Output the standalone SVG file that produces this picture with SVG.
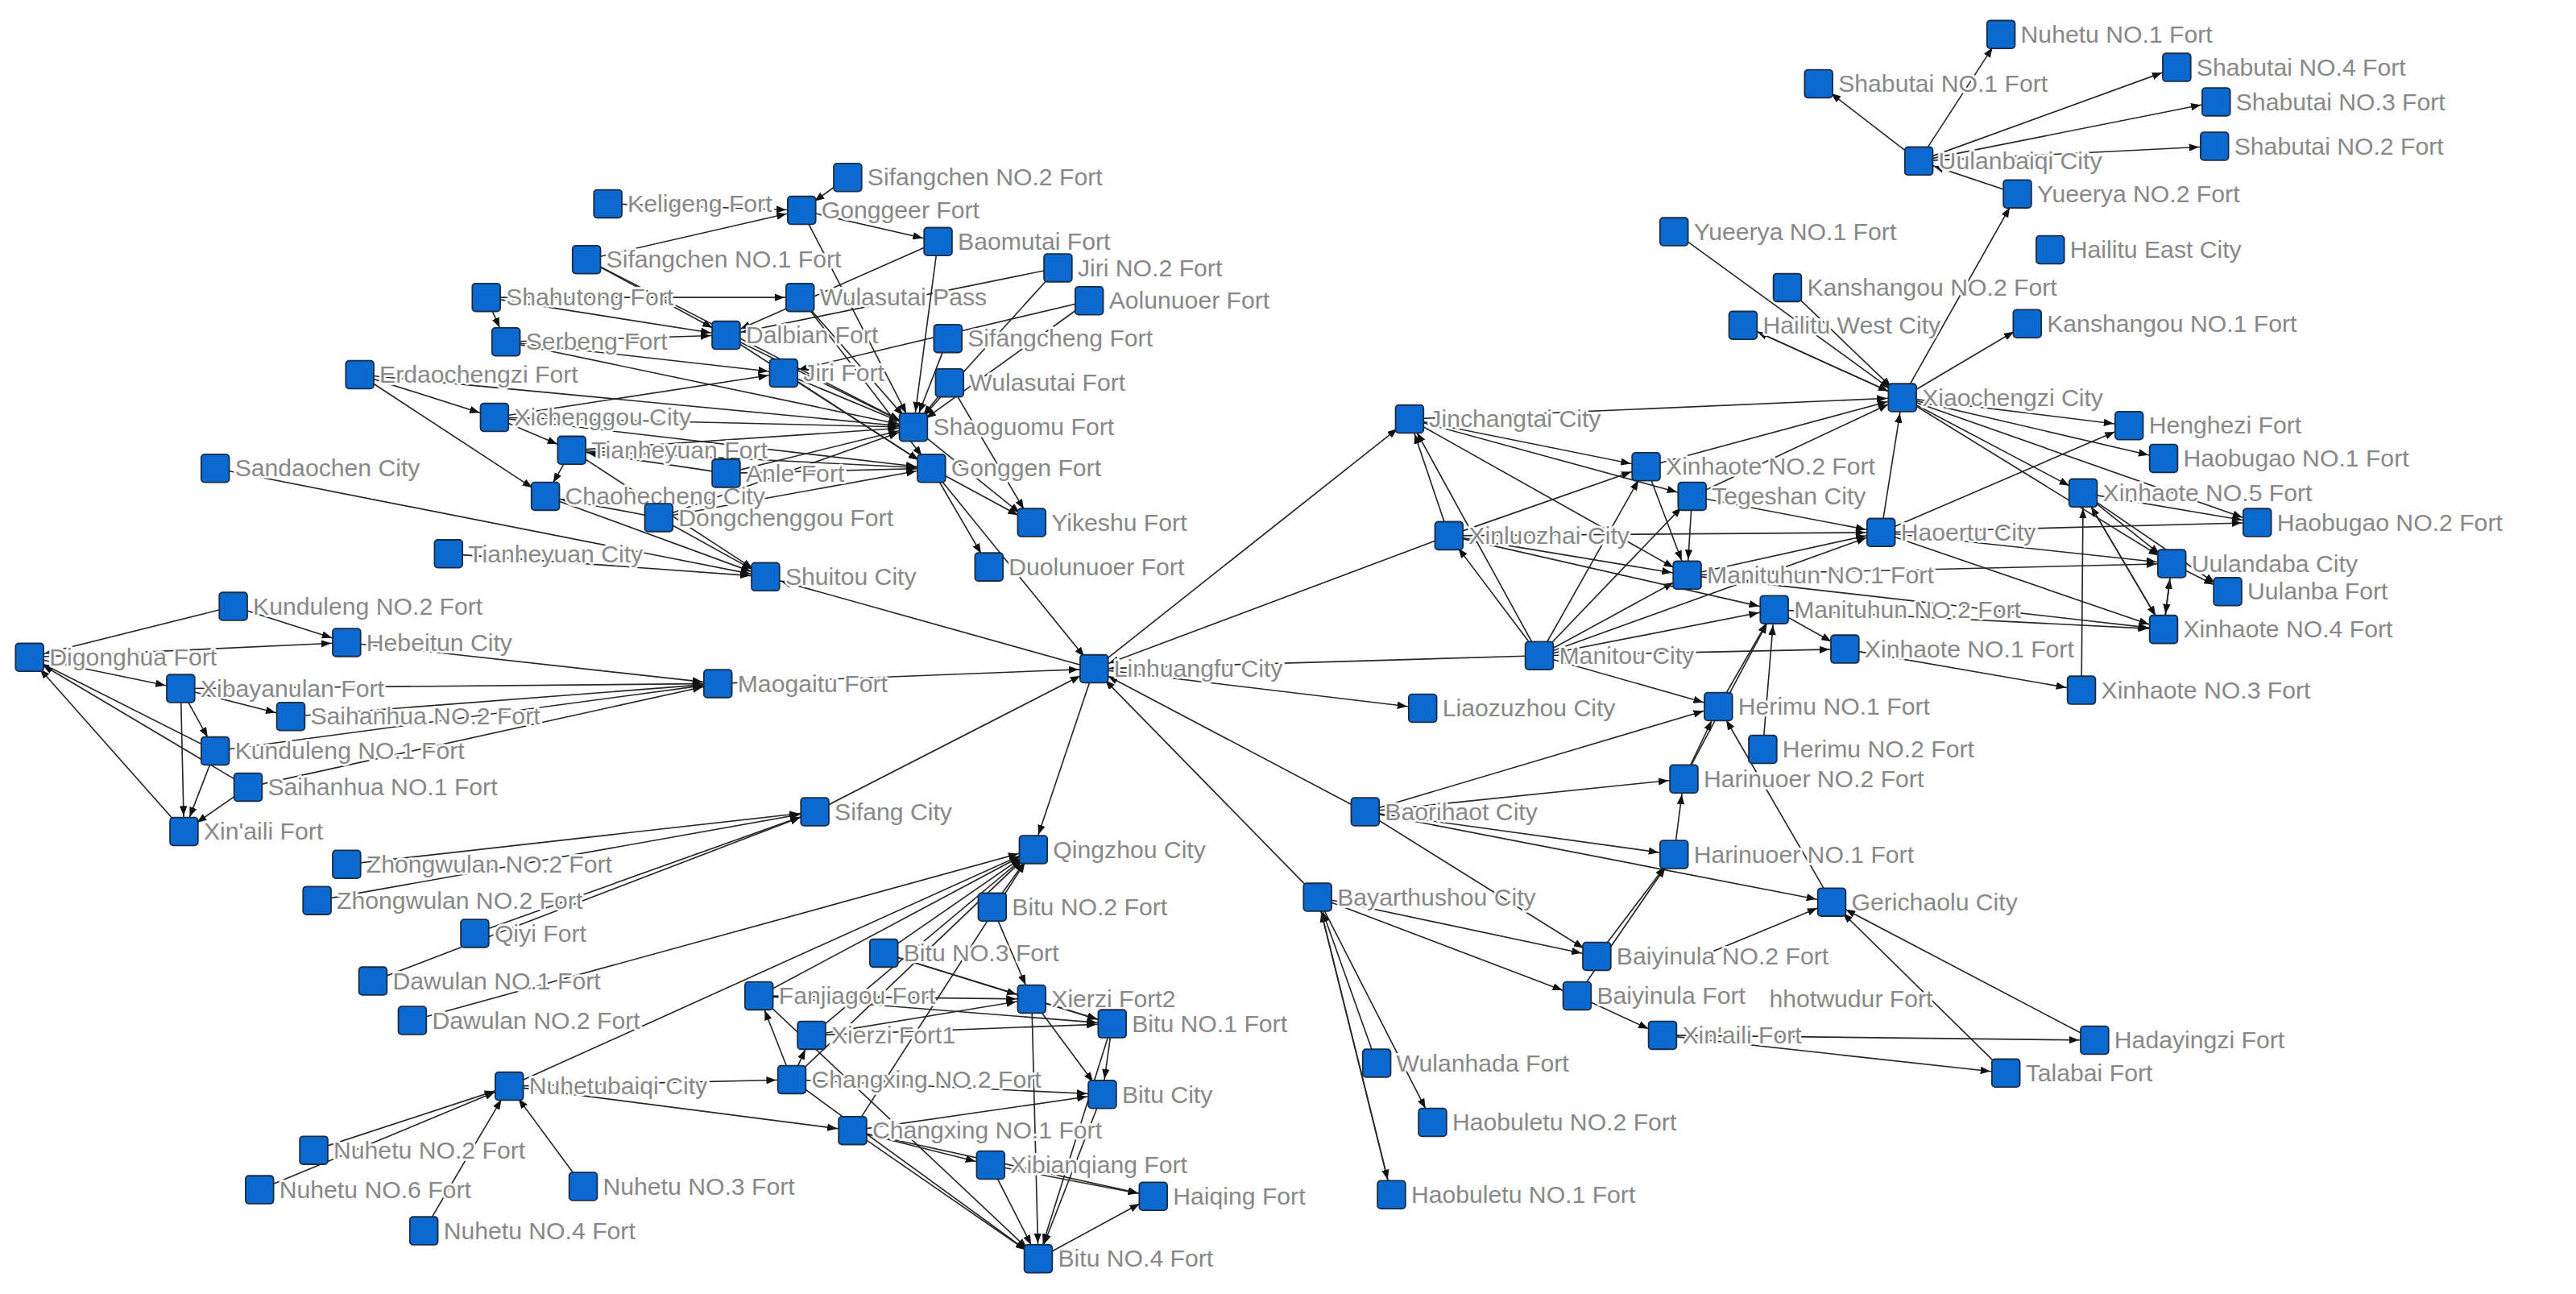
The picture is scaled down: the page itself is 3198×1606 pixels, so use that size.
<svg xmlns="http://www.w3.org/2000/svg" width="3198" height="1606" viewBox="0 0 3198 1606">
<style>
.n rect{fill:#0a6ad0;stroke:#1c2c44;stroke-width:0.9}
.n text{font-family:"Liberation Sans",Arial,sans-serif;font-size:14.8px;fill:#888;stroke:#fff;stroke-width:2.6;paint-order:stroke;stroke-linejoin:round}
#edges line{stroke:#262626;stroke-width:0.8;marker-end:url(#ah)}
</style>
<defs>
<marker id="ah" markerUnits="userSpaceOnUse" viewBox="0 0 6 4.6" markerWidth="6" markerHeight="4.6" refX="15.5" refY="2.3" orient="auto"><path d="M0,0 L6,2.3 L0,4.6 z" fill="#111"/></marker>
</defs>
<rect width="3198" height="1606" fill="#fff"/>
<g transform="scale(2.0395)">
<g id="edges">
<line x1="370" y1="124" x2="488" y2="128"/><line x1="357" y1="158" x2="488" y2="128"/><line x1="357" y1="158" x2="442" y2="204"/>
<line x1="296" y1="181" x2="308" y2="208"/><line x1="296" y1="181" x2="442" y2="204"/><line x1="296" y1="181" x2="487" y2="181"/>
<line x1="308" y1="208" x2="442" y2="204"/><line x1="308" y1="208" x2="477" y2="227"/><line x1="219" y1="228" x2="301" y2="254"/>
<line x1="219" y1="228" x2="332" y2="302"/><line x1="301" y1="254" x2="477" y2="227"/><line x1="301" y1="254" x2="556" y2="260"/>
<line x1="348" y1="274" x2="556" y2="260"/><line x1="348" y1="274" x2="332" y2="302"/><line x1="301" y1="254" x2="348" y2="274"/>
<line x1="442" y1="288" x2="348" y2="274"/><line x1="442" y1="288" x2="556" y2="260"/><line x1="442" y1="288" x2="567" y2="285"/>
<line x1="401" y1="315" x2="332" y2="302"/><line x1="401" y1="315" x2="567" y2="285"/><line x1="401" y1="315" x2="556" y2="260"/>
<line x1="488" y1="128" x2="556" y2="260"/><line x1="516" y1="108" x2="488" y2="128"/><line x1="571" y1="147" x2="556" y2="260"/>
<line x1="644" y1="163" x2="556" y2="260"/><line x1="663" y1="183" x2="556" y2="260"/><line x1="487" y1="181" x2="556" y2="260"/>
<line x1="442" y1="204" x2="556" y2="260"/><line x1="577" y1="206" x2="556" y2="260"/><line x1="477" y1="227" x2="556" y2="260"/>
<line x1="578" y1="233" x2="556" y2="260"/><line x1="442" y1="204" x2="567" y2="285"/><line x1="477" y1="227" x2="567" y2="285"/>
<line x1="567" y1="285" x2="628" y2="318"/><line x1="556" y1="260" x2="628" y2="318"/><line x1="578" y1="233" x2="628" y2="318"/>
<line x1="567" y1="285" x2="602" y2="345"/><line x1="567" y1="285" x2="666" y2="407"/><line x1="488" y1="128" x2="571" y2="147"/>
<line x1="571" y1="147" x2="442" y2="204"/><line x1="644" y1="163" x2="442" y2="204"/><line x1="663" y1="183" x2="477" y2="227"/>
<line x1="357" y1="158" x2="556" y2="260"/><line x1="308" y1="208" x2="556" y2="260"/><line x1="219" y1="228" x2="556" y2="260"/>
<line x1="348" y1="274" x2="567" y2="285"/><line x1="301" y1="254" x2="567" y2="285"/><line x1="487" y1="181" x2="567" y2="285"/>
<line x1="131" y1="285" x2="466" y2="351"/><line x1="273" y1="337" x2="466" y2="351"/><line x1="401" y1="315" x2="466" y2="351"/>
<line x1="332" y1="302" x2="466" y2="351"/><line x1="348" y1="274" x2="466" y2="351"/><line x1="666" y1="407" x2="466" y2="351"/>
<line x1="142" y1="369" x2="211" y2="391"/><line x1="18" y1="400" x2="211" y2="391"/><line x1="18" y1="400" x2="110" y2="419"/>
<line x1="211" y1="391" x2="437" y2="416"/><line x1="110" y1="419" x2="437" y2="416"/><line x1="177" y1="436" x2="437" y2="416"/>
<line x1="131" y1="457" x2="437" y2="416"/><line x1="142" y1="369" x2="18" y2="400"/><line x1="110" y1="419" x2="131" y2="457"/>
<line x1="110" y1="419" x2="177" y2="436"/><line x1="110" y1="419" x2="112" y2="506"/><line x1="131" y1="457" x2="18" y2="400"/>
<line x1="151" y1="479" x2="18" y2="400"/><line x1="112" y1="506" x2="18" y2="400"/><line x1="131" y1="457" x2="112" y2="506"/>
<line x1="151" y1="479" x2="112" y2="506"/><line x1="151" y1="479" x2="437" y2="416"/><line x1="437" y1="416" x2="666" y2="407"/>
<line x1="211" y1="526" x2="496" y2="494"/><line x1="193" y1="548" x2="496" y2="494"/><line x1="289" y1="568" x2="496" y2="494"/>
<line x1="227" y1="597" x2="496" y2="494"/><line x1="496" y1="494" x2="666" y2="407"/><line x1="251" y1="621" x2="629" y2="517"/>
<line x1="310" y1="661" x2="629" y2="517"/><line x1="191" y1="700" x2="310" y2="661"/><line x1="158" y1="724" x2="310" y2="661"/>
<line x1="355" y1="722" x2="310" y2="661"/><line x1="258" y1="749" x2="310" y2="661"/><line x1="310" y1="661" x2="482" y2="657"/>
<line x1="310" y1="661" x2="519" y2="688"/>
<line x1="604" y1="552" x2="629" y2="517"/><line x1="538" y1="580" x2="629" y2="517"/><line x1="462" y1="606" x2="629" y2="517"/>
<line x1="494" y1="630" x2="629" y2="517"/><line x1="482" y1="657" x2="629" y2="517"/><line x1="519" y1="688" x2="629" y2="517"/>
<line x1="538" y1="580" x2="628" y2="608"/><line x1="462" y1="606" x2="628" y2="608"/><line x1="462" y1="606" x2="677" y2="623"/>
<line x1="494" y1="630" x2="677" y2="623"/><line x1="494" y1="630" x2="628" y2="608"/><line x1="538" y1="580" x2="677" y2="623"/>
<line x1="628" y1="608" x2="677" y2="623"/><line x1="482" y1="657" x2="671" y2="666"/><line x1="519" y1="688" x2="671" y2="666"/>
<line x1="677" y1="623" x2="671" y2="666"/><line x1="628" y1="608" x2="671" y2="666"/><line x1="482" y1="657" x2="462" y2="606"/>
<line x1="482" y1="657" x2="494" y2="630"/><line x1="519" y1="688" x2="603" y2="709"/><line x1="519" y1="688" x2="702" y2="728"/>
<line x1="519" y1="688" x2="632" y2="766"/><line x1="482" y1="657" x2="632" y2="766"/><line x1="603" y1="709" x2="702" y2="728"/>
<line x1="632" y1="766" x2="702" y2="728"/><line x1="603" y1="709" x2="632" y2="766"/><line x1="671" y1="666" x2="632" y2="766"/>
<line x1="677" y1="623" x2="632" y2="766"/><line x1="628" y1="608" x2="632" y2="766"/><line x1="462" y1="606" x2="632" y2="766"/>
<line x1="604" y1="552" x2="628" y2="608"/><line x1="666" y1="407" x2="629" y2="517"/>
<line x1="802" y1="546" x2="666" y2="407"/><line x1="831" y1="494" x2="666" y2="407"/><line x1="666" y1="407" x2="866" y2="431"/>
<line x1="666" y1="407" x2="858" y2="255"/><line x1="882" y1="326" x2="666" y2="407"/><line x1="937" y1="399" x2="666" y2="407"/>
<line x1="838" y1="647" x2="802" y2="546"/><line x1="847" y1="727" x2="802" y2="546"/><line x1="802" y1="546" x2="847" y2="727"/>
<line x1="802" y1="546" x2="872" y2="683"/><line x1="802" y1="546" x2="960" y2="606"/><line x1="802" y1="546" x2="972" y2="582"/>
<line x1="831" y1="494" x2="1019" y2="520"/><line x1="831" y1="494" x2="1025" y2="474"/><line x1="831" y1="494" x2="1115" y2="549"/>
<line x1="831" y1="494" x2="972" y2="582"/><line x1="831" y1="494" x2="1046" y2="430"/><line x1="972" y1="582" x2="1019" y2="520"/>
<line x1="960" y1="606" x2="1019" y2="520"/><line x1="960" y1="606" x2="1012" y2="630"/><line x1="1012" y1="630" x2="1275" y2="633"/>
<line x1="1012" y1="630" x2="1221" y2="653"/><line x1="1275" y1="633" x2="1115" y2="549"/><line x1="1019" y1="520" x2="1025" y2="474"/>
<line x1="1025" y1="474" x2="1046" y2="430"/><line x1="1221" y1="653" x2="1115" y2="549"/><line x1="1040" y1="580" x2="1115" y2="549"/>
<line x1="1025" y1="474" x2="1080" y2="371"/><line x1="1073" y1="456" x2="1080" y2="371"/><line x1="1046" y1="430" x2="1080" y2="371"/>
<line x1="1115" y1="549" x2="1046" y2="430"/>
<line x1="937" y1="399" x2="858" y2="255"/><line x1="937" y1="399" x2="882" y2="326"/><line x1="882" y1="326" x2="858" y2="255"/>
<line x1="937" y1="399" x2="1002" y2="284"/><line x1="937" y1="399" x2="1027" y2="350"/><line x1="937" y1="399" x2="1080" y2="371"/>
<line x1="937" y1="399" x2="1030" y2="302"/><line x1="937" y1="399" x2="1145" y2="324"/><line x1="937" y1="399" x2="1046" y2="430"/>
<line x1="937" y1="399" x2="1123" y2="395"/><line x1="858" y1="255" x2="1002" y2="284"/><line x1="858" y1="255" x2="1030" y2="302"/>
<line x1="858" y1="255" x2="1027" y2="350"/><line x1="882" y1="326" x2="1002" y2="284"/><line x1="882" y1="326" x2="1027" y2="350"/>
<line x1="882" y1="326" x2="1080" y2="371"/><line x1="882" y1="326" x2="1145" y2="324"/><line x1="1030" y1="302" x2="1145" y2="324"/>
<line x1="1027" y1="350" x2="1145" y2="324"/><line x1="1080" y1="371" x2="1123" y2="395"/><line x1="1030" y1="302" x2="1027" y2="350"/>
<line x1="1002" y1="284" x2="1027" y2="350"/><line x1="1027" y1="350" x2="1317" y2="383"/><line x1="1080" y1="371" x2="1317" y2="383"/>
<line x1="858" y1="255" x2="1158" y2="242"/>
<line x1="1158" y1="242" x2="1061" y2="198"/><line x1="1158" y1="242" x2="1234" y2="197"/><line x1="1088" y1="175" x2="1158" y2="242"/>
<line x1="1019" y1="141" x2="1158" y2="242"/><line x1="1158" y1="242" x2="1228" y2="118"/><line x1="1228" y1="118" x2="1168" y2="98"/>
<line x1="1168" y1="98" x2="1107" y2="51"/><line x1="1168" y1="98" x2="1325" y2="41"/><line x1="1168" y1="98" x2="1349" y2="62"/>
<line x1="1168" y1="98" x2="1348" y2="89"/><line x1="1168" y1="98" x2="1218" y2="21"/><line x1="1158" y1="242" x2="1296" y2="259"/>
<line x1="1158" y1="242" x2="1317" y2="279"/><line x1="1158" y1="242" x2="1268" y2="300"/><line x1="1158" y1="242" x2="1322" y2="343"/>
<line x1="1002" y1="284" x2="1158" y2="242"/><line x1="1030" y1="302" x2="1158" y2="242"/><line x1="1145" y1="324" x2="1158" y2="242"/>
<line x1="1145" y1="324" x2="1296" y2="259"/><line x1="1268" y1="300" x2="1374" y2="318"/><line x1="1268" y1="300" x2="1322" y2="343"/>
<line x1="1322" y1="343" x2="1356" y2="360"/><line x1="1317" y1="383" x2="1268" y2="300"/><line x1="1317" y1="383" x2="1322" y2="343"/>
<line x1="1145" y1="324" x2="1322" y2="343"/><line x1="1145" y1="324" x2="1317" y2="383"/><line x1="1123" y1="395" x2="1267" y2="420"/>
<line x1="1267" y1="420" x2="1268" y2="300"/><line x1="1145" y1="324" x2="1374" y2="318"/><line x1="1268" y1="300" x2="1317" y2="383"/>
<line x1="1322" y1="343" x2="1317" y2="383"/><line x1="1158" y1="242" x2="1374" y2="318"/><line x1="1268" y1="300" x2="1356" y2="360"/>
<line x1="1027" y1="350" x2="1322" y2="343"/><line x1="1061" y1="198" x2="1158" y2="242"/>
</g>
<g id="n_sfc2" class="n"><rect x="507.5" y="99.5" width="17" height="17" rx="2"/><text x="528" y="113">Sifangchen NO.2 Fort</text></g>
<g id="n_kel" class="n"><rect x="361.5" y="115.5" width="17" height="17" rx="2"/><text x="382" y="129">Keligeng Fort</text></g>
<g id="n_ggr" class="n"><rect x="479.5" y="119.5" width="17" height="17" rx="2"/><text x="500" y="133">Gonggeer Fort</text></g>
<g id="n_sfc1" class="n"><rect x="348.5" y="149.5" width="17" height="17" rx="2"/><text x="369" y="163">Sifangchen NO.1 Fort</text></g>
<g id="n_bmt" class="n"><rect x="562.5" y="138.5" width="17" height="17" rx="2"/><text x="583" y="152">Baomutai Fort</text></g>
<g id="n_jiri2" class="n"><rect x="635.5" y="154.5" width="17" height="17" rx="2"/><text x="656" y="168">Jiri NO.2 Fort</text></g>
<g id="n_aol" class="n"><rect x="654.5" y="174.5" width="17" height="17" rx="2"/><text x="675" y="188">Aolunuoer Fort</text></g>
<g id="n_sht" class="n"><rect x="287.5" y="172.5" width="17" height="17" rx="2"/><text x="308" y="186">Shahutong Fort</text></g>
<g id="n_wlp" class="n"><rect x="478.5" y="172.5" width="17" height="17" rx="2"/><text x="499" y="186">Wulasutai Pass</text></g>
<g id="n_srb" class="n"><rect x="299.5" y="199.5" width="17" height="17" rx="2"/><text x="320" y="213">Serbeng Fort</text></g>
<g id="n_dlb" class="n"><rect x="433.5" y="195.5" width="17" height="17" rx="2"/><text x="454" y="209">Dalbian Fort</text></g>
<g id="n_sfcg" class="n"><rect x="568.5" y="197.5" width="17" height="17" rx="2"/><text x="589" y="211">Sifangcheng Fort</text></g>
<g id="n_jiri" class="n"><rect x="468.5" y="218.5" width="17" height="17" rx="2"/><text x="489" y="232">Jiri Fort</text></g>
<g id="n_wlf" class="n"><rect x="569.5" y="224.5" width="17" height="17" rx="2"/><text x="590" y="238">Wulasutai Fort</text></g>
<g id="n_edc" class="n"><rect x="210.5" y="219.5" width="17" height="17" rx="2"/><text x="231" y="233">Erdaochengzi Fort</text></g>
<g id="n_xcg" class="n"><rect x="292.5" y="245.5" width="17" height="17" rx="2"/><text x="313" y="259">Xichenggou City</text></g>
<g id="n_sgm" class="n"><rect x="547.5" y="251.5" width="17" height="17" rx="2"/><text x="568" y="265">Shaoguomu Fort</text></g>
<g id="n_thf" class="n"><rect x="339.5" y="265.5" width="17" height="17" rx="2"/><text x="360" y="279">Tianheyuan Fort</text></g>
<g id="n_ggn" class="n"><rect x="558.5" y="276.5" width="17" height="17" rx="2"/><text x="579" y="290">Gonggen Fort</text></g>
<g id="n_chc" class="n"><rect x="323.5" y="293.5" width="17" height="17" rx="2"/><text x="344" y="307">Chaohecheng City</text></g>
<g id="n_anle" class="n"><rect x="433.5" y="279.5" width="17" height="17" rx="2"/><text x="454" y="293">Anle Fort</text></g>
<g id="n_dcg" class="n"><rect x="392.5" y="306.5" width="17" height="17" rx="2"/><text x="413" y="320">Dongchenggou Fort</text></g>
<g id="n_yks" class="n"><rect x="619.5" y="309.5" width="17" height="17" rx="2"/><text x="640" y="323">Yikeshu Fort</text></g>
<g id="n_sdc" class="n"><rect x="122.5" y="276.5" width="17" height="17" rx="2"/><text x="143" y="290">Sandaochen City</text></g>
<g id="n_thc" class="n"><rect x="264.5" y="328.5" width="17" height="17" rx="2"/><text x="285" y="342">Tianheyuan City</text></g>
<g id="n_stc" class="n"><rect x="457.5" y="342.5" width="17" height="17" rx="2"/><text x="478" y="356">Shuitou City</text></g>
<g id="n_dln" class="n"><rect x="593.5" y="336.5" width="17" height="17" rx="2"/><text x="614" y="350">Duolunuoer Fort</text></g>
<g id="n_kdl2" class="n"><rect x="133.5" y="360.5" width="17" height="17" rx="2"/><text x="154" y="374">Kunduleng NO.2 Fort</text></g>
<g id="n_hbt" class="n"><rect x="202.5" y="382.5" width="17" height="17" rx="2"/><text x="223" y="396">Hebeitun  City</text></g>
<g id="n_dgh" class="n"><rect x="9.5" y="391.5" width="17" height="17" rx="2"/><text x="30" y="405">Digonghua Fort</text></g>
<g id="n_mgt" class="n"><rect x="428.5" y="407.5" width="17" height="17" rx="2"/><text x="449" y="421">Maogaitu Fort</text></g>
<g id="n_xby" class="n"><rect x="101.5" y="410.5" width="17" height="17" rx="2"/><text x="122" y="424">Xibayanulan Fort</text></g>
<g id="n_shh2" class="n"><rect x="168.5" y="427.5" width="17" height="17" rx="2"/><text x="189" y="441">Saihanhua NO.2 Fort</text></g>
<g id="n_kdl1" class="n"><rect x="122.5" y="448.5" width="17" height="17" rx="2"/><text x="143" y="462">Kunduleng NO.1 Fort</text></g>
<g id="n_shh1" class="n"><rect x="142.5" y="470.5" width="17" height="17" rx="2"/><text x="163" y="484">Saihanhua NO.1 Fort</text></g>
<g id="n_xal1" class="n"><rect x="103.5" y="497.5" width="17" height="17" rx="2"/><text x="124" y="511">Xin'aili Fort</text></g>
<g id="n_lhf" class="n"><rect x="657.5" y="398.5" width="17" height="17" rx="2"/><text x="678" y="412">Linhuangfu City</text></g>
<g id="n_sif" class="n"><rect x="487.5" y="485.5" width="17" height="17" rx="2"/><text x="508" y="499">Sifang City</text></g>
<g id="n_zwl2a" class="n"><rect x="202.5" y="517.5" width="17" height="17" rx="2"/><text x="223" y="531">Zhongwulan NO.2 Fort</text></g>
<g id="n_zwl2b" class="n"><rect x="184.5" y="539.5" width="17" height="17" rx="2"/><text x="205" y="553">Zhongwulan NO.2 Fort</text></g>
<g id="n_qiyi" class="n"><rect x="280.5" y="559.5" width="17" height="17" rx="2"/><text x="301" y="573">Qiyi Fort</text></g>
<g id="n_dwl1" class="n"><rect x="218.5" y="588.5" width="17" height="17" rx="2"/><text x="239" y="602">Dawulan NO.1 Fort</text></g>
<g id="n_dwl2" class="n"><rect x="242.5" y="612.5" width="17" height="17" rx="2"/><text x="263" y="626">Dawulan NO.2 Fort</text></g>
<g id="n_nhb" class="n"><rect x="301.5" y="652.5" width="17" height="17" rx="2"/><text x="322" y="666">Nuhetubaiqi City</text></g>
<g id="n_nh2" class="n"><rect x="182.5" y="691.5" width="17" height="17" rx="2"/><text x="203" y="705">Nuhetu NO.2 Fort</text></g>
<g id="n_nh6" class="n"><rect x="149.5" y="715.5" width="17" height="17" rx="2"/><text x="170" y="729">Nuhetu NO.6 Fort</text></g>
<g id="n_nh3" class="n"><rect x="346.5" y="713.5" width="17" height="17" rx="2"/><text x="367" y="727">Nuhetu NO.3 Fort</text></g>
<g id="n_nh4" class="n"><rect x="249.5" y="740.5" width="17" height="17" rx="2"/><text x="270" y="754">Nuhetu NO.4 Fort</text></g>
<g id="n_qzc" class="n"><rect x="620.5" y="508.5" width="17" height="17" rx="2"/><text x="641" y="522">Qingzhou City</text></g>
<g id="n_bt2" class="n"><rect x="595.5" y="543.5" width="17" height="17" rx="2"/><text x="616" y="557">Bitu NO.2 Fort</text></g>
<g id="n_bt3" class="n"><rect x="529.5" y="571.5" width="17" height="17" rx="2"/><text x="550" y="585">Bitu NO.3 Fort</text></g>
<g id="n_fjg" class="n"><rect x="453.5" y="597.5" width="17" height="17" rx="2"/><text x="474" y="611">Fanjiagou Fort</text></g>
<g id="n_xe1" class="n"><rect x="485.5" y="621.5" width="17" height="17" rx="2"/><text x="506" y="635">Xierzi Fort1</text></g>
<g id="n_xe2" class="n"><rect x="619.5" y="599.5" width="17" height="17" rx="2"/><text x="640" y="613">Xierzi Fort2</text></g>
<g id="n_bt1" class="n"><rect x="668.5" y="614.5" width="17" height="17" rx="2"/><text x="689" y="628">Bitu NO.1 Fort</text></g>
<g id="n_cx2" class="n"><rect x="473.5" y="648.5" width="17" height="17" rx="2"/><text x="494" y="662">Changxing NO.2 Fort</text></g>
<g id="n_btc" class="n"><rect x="662.5" y="657.5" width="17" height="17" rx="2"/><text x="683" y="671">Bitu City</text></g>
<g id="n_cx1" class="n"><rect x="510.5" y="679.5" width="17" height="17" rx="2"/><text x="531" y="693">Changxing NO.1 Fort</text></g>
<g id="n_xbq" class="n"><rect x="594.5" y="700.5" width="17" height="17" rx="2"/><text x="615" y="714">Xibianqiang Fort</text></g>
<g id="n_hq" class="n"><rect x="693.5" y="719.5" width="17" height="17" rx="2"/><text x="714" y="733">Haiqing Fort</text></g>
<g id="n_bt4" class="n"><rect x="623.5" y="757.5" width="17" height="17" rx="2"/><text x="644" y="771">Bitu NO.4 Fort</text></g>
<g id="n_bys" class="n"><rect x="793.5" y="537.5" width="17" height="17" rx="2"/><text x="814" y="551">Bayarthushou City</text></g>
<g id="n_wlh" class="n"><rect x="829.5" y="638.5" width="17" height="17" rx="2"/><text x="850" y="652">Wulanhada Fort</text></g>
<g id="n_hbl2" class="n"><rect x="863.5" y="674.5" width="17" height="17" rx="2"/><text x="884" y="688">Haobuletu NO.2 Fort</text></g>
<g id="n_hbl1" class="n"><rect x="838.5" y="718.5" width="17" height="17" rx="2"/><text x="859" y="732">Haobuletu NO.1 Fort</text></g>
<g id="n_brh" class="n"><rect x="822.5" y="485.5" width="17" height="17" rx="2"/><text x="843" y="499">Baorihaot City</text></g>
<g id="n_lzz" class="n"><rect x="857.5" y="422.5" width="17" height="17" rx="2"/><text x="878" y="436">Liaozuzhou City</text></g>
<g id="n_jct" class="n"><rect x="849.5" y="246.5" width="17" height="17" rx="2"/><text x="870" y="260">Jinchangtai City</text></g>
<g id="n_xlz" class="n"><rect x="873.5" y="317.5" width="17" height="17" rx="2"/><text x="894" y="331">Xinluozhai City</text></g>
<g id="n_mnt" class="n"><rect x="928.5" y="390.5" width="17" height="17" rx="2"/><text x="949" y="404">Manitou City</text></g>
<g id="n_xh2" class="n"><rect x="993.5" y="275.5" width="17" height="17" rx="2"/><text x="1014" y="289">Xinhaote NO.2 Fort</text></g>
<g id="n_tgs" class="n"><rect x="1021.5" y="293.5" width="17" height="17" rx="2"/><text x="1042" y="307">Tegeshan City</text></g>
<g id="n_mt1" class="n"><rect x="1018.5" y="341.5" width="17" height="17" rx="2"/><text x="1039" y="355">Manituhun NO.1 Fort</text></g>
<g id="n_mt2" class="n"><rect x="1071.5" y="362.5" width="17" height="17" rx="2"/><text x="1092" y="376">Manituhun NO.2 Fort</text></g>
<g id="n_hoe" class="n"><rect x="1136.5" y="315.5" width="17" height="17" rx="2"/><text x="1157" y="329">Haoertu City</text></g>
<g id="n_xh1" class="n"><rect x="1114.5" y="386.5" width="17" height="17" rx="2"/><text x="1135" y="400">Xinhaote NO.1 Fort</text></g>
<g id="n_hr1" class="n"><rect x="1037.5" y="421.5" width="17" height="17" rx="2"/><text x="1058" y="435">Herimu NO.1 Fort</text></g>
<g id="n_hr2" class="n"><rect x="1064.5" y="447.5" width="17" height="17" rx="2"/><text x="1085" y="461">Herimu NO.2 Fort</text></g>
<g id="n_hn2" class="n"><rect x="1016.5" y="465.5" width="17" height="17" rx="2"/><text x="1037" y="479">Harinuoer NO.2 Fort</text></g>
<g id="n_hn1" class="n"><rect x="1010.5" y="511.5" width="17" height="17" rx="2"/><text x="1031" y="525">Harinuoer NO.1 Fort</text></g>
<g id="n_gcl" class="n"><rect x="1106.5" y="540.5" width="17" height="17" rx="2"/><text x="1127" y="554">Gerichaolu City</text></g>
<g id="t_hhot" class="n"><text x="1077" y="613">hhotwudur Fort</text></g>
<g id="n_byn2" class="n"><rect x="963.5" y="573.5" width="17" height="17" rx="2"/><text x="984" y="587">Baiyinula NO.2 Fort</text></g>
<g id="n_byn" class="n"><rect x="951.5" y="597.5" width="17" height="17" rx="2"/><text x="972" y="611">Baiyinula Fort</text></g>
<g id="n_xal2" class="n"><rect x="1003.5" y="621.5" width="17" height="17" rx="2"/><text x="1024" y="635">Xin'aili Fort</text></g>
<g id="n_hdy" class="n"><rect x="1266.5" y="624.5" width="17" height="17" rx="2"/><text x="1287" y="638">Hadayingzi Fort</text></g>
<g id="n_tlb" class="n"><rect x="1212.5" y="644.5" width="17" height="17" rx="2"/><text x="1233" y="658">Talabai Fort</text></g>
<g id="n_nh1" class="n"><rect x="1209.5" y="12.5" width="17" height="17" rx="2"/><text x="1230" y="26">Nuhetu NO.1 Fort</text></g>
<g id="n_sb1" class="n"><rect x="1098.5" y="42.5" width="17" height="17" rx="2"/><text x="1119" y="56">Shabutai NO.1 Fort</text></g>
<g id="n_sb4" class="n"><rect x="1316.5" y="32.5" width="17" height="17" rx="2"/><text x="1337" y="46">Shabutai NO.4 Fort</text></g>
<g id="n_sb3" class="n"><rect x="1340.5" y="53.5" width="17" height="17" rx="2"/><text x="1361" y="67">Shabutai NO.3 Fort</text></g>
<g id="n_ulb" class="n"><rect x="1159.5" y="89.5" width="17" height="17" rx="2"/><text x="1180" y="103">Uulanbaiqi City</text></g>
<g id="n_sb2" class="n"><rect x="1339.5" y="80.5" width="17" height="17" rx="2"/><text x="1360" y="94">Shabutai NO.2 Fort</text></g>
<g id="n_ye2" class="n"><rect x="1219.5" y="109.5" width="17" height="17" rx="2"/><text x="1240" y="123">Yueerya NO.2 Fort</text></g>
<g id="n_ye1" class="n"><rect x="1010.5" y="132.5" width="17" height="17" rx="2"/><text x="1031" y="146">Yueerya NO.1 Fort</text></g>
<g id="n_hle" class="n"><rect x="1239.5" y="143.5" width="17" height="17" rx="2"/><text x="1260" y="157">Hailitu East City</text></g>
<g id="n_ks2" class="n"><rect x="1079.5" y="166.5" width="17" height="17" rx="2"/><text x="1100" y="180">Kanshangou NO.2 Fort</text></g>
<g id="n_hlw" class="n"><rect x="1052.5" y="189.5" width="17" height="17" rx="2"/><text x="1073" y="203">Hailitu West City</text></g>
<g id="n_ks1" class="n"><rect x="1225.5" y="188.5" width="17" height="17" rx="2"/><text x="1246" y="202">Kanshangou NO.1 Fort</text></g>
<g id="n_xcz" class="n"><rect x="1149.5" y="233.5" width="17" height="17" rx="2"/><text x="1170" y="247">Xiaochengzi City</text></g>
<g id="n_hhz" class="n"><rect x="1287.5" y="250.5" width="17" height="17" rx="2"/><text x="1308" y="264">Henghezi Fort</text></g>
<g id="n_hbg1" class="n"><rect x="1308.5" y="270.5" width="17" height="17" rx="2"/><text x="1329" y="284">Haobugao NO.1 Fort</text></g>
<g id="n_xh5" class="n"><rect x="1259.5" y="291.5" width="17" height="17" rx="2"/><text x="1280" y="305">Xinhaote NO.5 Fort</text></g>
<g id="n_hbg2" class="n"><rect x="1365.5" y="309.5" width="17" height="17" rx="2"/><text x="1386" y="323">Haobugao NO.2 Fort</text></g>
<g id="n_uld" class="n"><rect x="1313.5" y="334.5" width="17" height="17" rx="2"/><text x="1334" y="348">Uulandaba City</text></g>
<g id="n_ulf" class="n"><rect x="1347.5" y="351.5" width="17" height="17" rx="2"/><text x="1368" y="365">Uulanba Fort</text></g>
<g id="n_xh4" class="n"><rect x="1308.5" y="374.5" width="17" height="17" rx="2"/><text x="1329" y="388">Xinhaote NO.4 Fort</text></g>
<g id="n_xh3" class="n"><rect x="1258.5" y="411.5" width="17" height="17" rx="2"/><text x="1279" y="425">Xinhaote NO.3 Fort</text></g>
</g>
</svg>
